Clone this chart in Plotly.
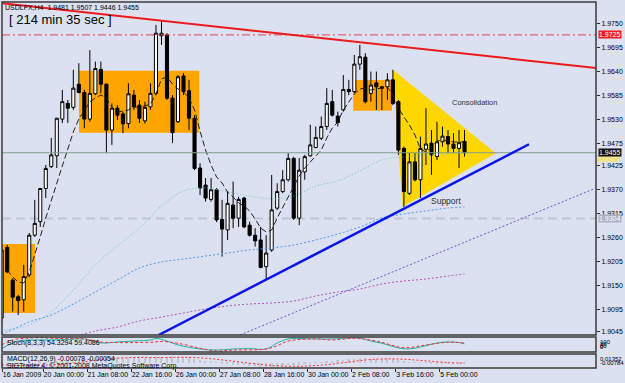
import plotly.graph_objects as go

# ---------------- data ----------------
bars = list(range(-1, 84))
open_ = [1.9076, 1.9238, 1.9163, 1.9125, 1.9118, 1.9175, 1.9266, 1.9297, 1.9373, 1.9423,
         1.9448, 1.9532, 1.9568, 1.9559, 1.9612, 1.9593, 1.9532, 1.9590, 1.9646, 1.9612,
         1.9507, 1.9557, 1.9544, 1.9522, 1.9587, 1.9564, 1.9528, 1.9560, 1.9591, 1.9723,
         1.9725, 1.9580, 1.9526, 1.9631, 1.9597, 1.9534, 1.9420, 1.9381, 1.9348, 1.9370,
         1.9302, 1.9278, 1.9335, 1.9305, 1.9351, 1.9289, 1.9266, 1.9255, 1.9194, 1.9232,
         1.9328, 1.9366, 1.9393, 1.9442, 1.9305, 1.9411, 1.9448, 1.9467, 1.9488, 1.9515,
         1.9572, 1.9539, 1.9553, 1.9600, 1.9595, 1.9658, 1.9674, 1.9591, 1.9615, 1.9606,
         1.9606, 1.9622, 1.9572, 1.9465, 1.9362, 1.9434, 1.9393, 1.9463, 1.9477, 1.9446,
         1.9480, 1.9492, 1.9475, 1.9465, 1.9481]
high = [1.9244, 1.9244, 1.9167, 1.9129, 1.9198, 1.9271, 1.9347, 1.9374, 1.9427, 1.9489,
        1.9535, 1.9599, 1.9576, 1.9645, 1.9660, 1.9599, 1.9690, 1.9664, 1.9664, 1.9614,
        1.9568, 1.9564, 1.9549, 1.9614, 1.9599, 1.9576, 1.9572, 1.9614, 1.9748, 1.9759,
        1.9729, 1.9587, 1.9633, 1.9638, 1.9622, 1.9541, 1.9431, 1.9397, 1.9397, 1.9374,
        1.9347, 1.9366, 1.9389, 1.9354, 1.9354, 1.9297, 1.9282, 1.9285, 1.9266, 1.9404,
        1.9385, 1.9415, 1.9454, 1.9446, 1.9443, 1.9450, 1.9519, 1.9515, 1.9538, 1.9603,
        1.9599, 1.9549, 1.9633, 1.9622, 1.9679, 1.9702, 1.9683, 1.9641, 1.9641, 1.9608,
        1.9637, 1.9645, 1.9576, 1.9469, 1.9454, 1.9454, 1.9492, 1.9557, 1.9507, 1.9526,
        1.9515, 1.9507, 1.9500, 1.9507, 1.9507]
low = [1.9065, 1.9179, 1.9091, 1.9083, 1.9091, 1.9170, 1.9262, 1.9285, 1.9351, 1.9420,
       1.9420, 1.9523, 1.9523, 1.9553, 1.9591, 1.9511, 1.9526, 1.9587, 1.9591, 1.9454,
       1.9473, 1.9530, 1.9500, 1.9511, 1.9553, 1.9523, 1.9522, 1.9553, 1.9587, 1.9702,
       1.9576, 1.9477, 1.9523, 1.9587, 1.9507, 1.9415, 1.9358, 1.9343, 1.9343, 1.9296,
       1.9217, 1.9255, 1.9282, 1.9285, 1.9282, 1.9263, 1.9240, 1.9190, 1.9163, 1.9228,
       1.9324, 1.9362, 1.9389, 1.9301, 1.9289, 1.9393, 1.9446, 1.9465, 1.9484, 1.9507,
       1.9538, 1.9515, 1.9549, 1.9587, 1.9591, 1.9645, 1.9568, 1.9572, 1.9553, 1.9553,
       1.9576, 1.9564, 1.9450, 1.9331, 1.9358, 1.9389, 1.9351, 1.9427, 1.9404, 1.9438,
       1.9469, 1.9454, 1.9454, 1.9420, 1.9446]
close = [1.9232, 1.9182, 1.9124, 1.9116, 1.9171, 1.9266, 1.9293, 1.9373, 1.9419, 1.9450,
         1.9534, 1.9572, 1.9557, 1.9603, 1.9593, 1.9532, 1.9591, 1.9648, 1.9612, 1.9507,
         1.9557, 1.9541, 1.9521, 1.9590, 1.9560, 1.9534, 1.9559, 1.9591, 1.9729, 1.9729,
         1.9580, 1.9501, 1.9629, 1.9595, 1.9534, 1.9419, 1.9374, 1.9351, 1.9370, 1.9301,
         1.9280, 1.9339, 1.9305, 1.9348, 1.9285, 1.9266, 1.9253, 1.9192, 1.9225, 1.9324,
         1.9366, 1.9393, 1.9442, 1.9305, 1.9415, 1.9446, 1.9473, 1.9490, 1.9515, 1.9568,
         1.9541, 1.9524, 1.9600, 1.9595, 1.9658, 1.9675, 1.9572, 1.9610, 1.9606, 1.9603,
         1.9622, 1.9568, 1.9461, 1.9366, 1.9434, 1.9393, 1.9465, 1.9475, 1.9450, 1.9480,
         1.9493, 1.9475, 1.9465, 1.9478, 1.9455]

fast_ma = [1.91862, 1.91702, 1.91587, 1.91565, 1.91817, 1.92206, 1.92619, 1.93054, 1.93467, 1.93856,
           1.94246, 1.94635, 1.95025, 1.95323, 1.95529, 1.95712, 1.95804, 1.95873, 1.95804, 1.95598,
           1.95483, 1.95506, 1.95529, 1.95598, 1.95598, 1.95621, 1.95667, 1.95896, 1.96240, 1.96285,
           1.96125, 1.96010, 1.95942, 1.95804, 1.95529, 1.95048, 1.94612, 1.94269, 1.93994, 1.93856,
           1.93650, 1.93535, 1.93398, 1.93329, 1.93215, 1.93031, 1.92825, 1.92733, 1.92779, 1.93054,
           1.93302, 1.93554, 1.93787, 1.94017, 1.94200, 1.94337, 1.94498, 1.94612, 1.94887, 1.95117,
           1.95254, 1.95529, 1.95712, 1.95896, 1.96010, 1.96033, 1.95987, 1.96010, 1.96033, 1.96056,
           1.95873, 1.95575, 1.95369, 1.95185, 1.94956, 1.94635, 1.94567, 1.94681, 1.94819, 1.94842,
           1.94819, 1.94796, 1.94796, 1.94796]

ma_bars = [-1, 0, 4, 8, 12, 16, 20, 24, 28, 32, 36, 40, 44, 48, 52, 56, 60, 64, 68, 72, 76, 80, 83]
ma_teal = [1.90465, 1.90487, 1.90602, 1.90900, 1.91404, 1.91977, 1.92412, 1.92825, 1.93329, 1.93673,
           1.93742, 1.93650, 1.93558, 1.93490, 1.93558, 1.93787, 1.93902, 1.94131, 1.94383, 1.94452,
           1.94498, 1.94521, 1.94567]
ma_blue = [1.90396, 1.90442, 1.90671, 1.90831, 1.91083, 1.91358, 1.91633, 1.91908, 1.92046, 1.92114,
           1.92183, 1.92252, 1.92321, 1.92367, 1.92435, 1.92550, 1.92687, 1.92848, 1.93054, 1.93146,
           1.93215, 1.93283, 1.93306]
ma_mag_bars = [12, 16, 20, 24, 28, 32, 36, 40, 44, 48, 52, 56, 60, 64, 68, 72, 76, 80, 83]
ma_mag = [1.90327, 1.90465, 1.90556, 1.90694, 1.90785, 1.90877, 1.90969, 1.91037, 1.91083, 1.91106,
          1.91152, 1.91267, 1.91358, 1.91427, 1.91542, 1.91610, 1.91656, 1.91725, 1.91771]

stoch_main_bars = [-1, 2, 5, 8, 11, 14, 17, 20, 23, 26, 27, 29, 31, 35, 38, 41, 44, 47, 49, 51,
                   53, 56, 59, 62, 64, 66, 68, 71, 73, 75, 78, 80, 82, 83]
stoch_main = [23, 73, 80, 80, 83, 87, 60, 67, 73, 80, 90, 73, 47, 20, 13, 20, 23, 20, 60, 87,
              90, 87, 87, 93, 93, 73, 58, 27, 20, 33, 60, 67, 63, 54.33]
stoch_sig_bars = [-1, 1, 5, 9, 14, 17, 20, 26, 28, 31, 35, 38, 41, 47, 49, 51, 56, 59, 63, 67,
                  72, 76, 80, 83]
stoch_sig = [47, 80, 95, 90, 87, 67, 63, 65, 70, 58, 25, 7, 13, 20, 42, 73, 87, 80, 91, 73,
             29, 47, 65, 59.41]

macd_hist = [-0.0040, -0.0042, -0.0045, -0.0047, -0.0046, -0.0040, -0.0032, -0.0022, -0.0010, 0.0002,
             0.0015, 0.0030, 0.0042, 0.0055, 0.0066, 0.0072, 0.0080, 0.0088, 0.0093, 0.0090,
             0.0088, 0.0085, 0.0080, 0.0080, 0.0078, 0.0074, 0.0072, 0.0073, 0.0085, 0.0096,
             0.0094, 0.0086, 0.0086, 0.0083, 0.0076, 0.0060, 0.0044, 0.0028, 0.0016, 0.0002,
             -0.0012, -0.0018, -0.0026, -0.0030, -0.0037, -0.0044, -0.0051, -0.0062, -0.0068, -0.0064,
             -0.0056, -0.0046, -0.0034, -0.0036, -0.0028, -0.0018, -0.0008, 0.0002, 0.0012, 0.0026,
             0.0034, 0.0038, 0.0046, 0.0052, 0.0062, 0.0070, 0.0068, 0.0066, 0.0064, 0.0062,
             0.0062, 0.0056, 0.0040, 0.0020, 0.0012, 0.0002, 0.0001, -0.0001, -0.0004, -0.0004,
             -0.0004, -0.0005, -0.0006, -0.0006, -0.0008]
macd_sig_bars = [-1, 4, 8, 12, 16, 20, 24, 28, 32, 36, 40, 44, 48, 52, 56, 60, 64, 68, 72, 76, 80, 83]
macd_sig = [-0.0030, -0.0042, -0.0030, -0.0005, 0.0040, 0.0070, 0.0083, 0.0080, 0.0085, 0.0070,
            0.0035, -0.0005, -0.0040, -0.0052, -0.0040, -0.0010, 0.0035, 0.0060, 0.0055, 0.0030,
            0.0004, -0.0005]

price_ticks = [1.9750, 1.9695, 1.9640, 1.9585, 1.9530, 1.9475, 1.9425, 1.9370,
               1.9315, 1.9260, 1.9205, 1.9150, 1.9095, 1.9045]
date_labels = ["16 Jan 2009", "20 Jan 00:00", "21 Jan 08:00", "22 Jan 16:00", "26 Jan 00:00",
               "27 Jan 08:00", "28 Jan 16:00", "30 Jan 00:00", "2 Feb 08:00", "3 Feb 16:00",
               "5 Feb 00:00"]

# levels / objects (data coordinates)
level_red = 1.9725
level_bid = 1.9455
level_grey = 1.9304

# ---------------- style ----------------
BG = "#dbe1f1"
FONT = "Liberation Sans, Arial, sans-serif"
X_RANGE = [-0.944, 106.86]
Y_RANGE = [1.90373, 1.98004]
D_MAIN = [0.0902, 1.0]
D_STO = [0.0437, 0.0847]
D_MACD = [0.0, 0.0383]

fig = go.Figure()

fig.add_trace(go.Candlestick(
    x=bars, open=open_, high=high, low=low, close=close,
    increasing=dict(line=dict(color="black", width=1), fillcolor="white"),
    decreasing=dict(line=dict(color="black", width=1), fillcolor="black"),
    whiskerwidth=0, xaxis="x", yaxis="y", showlegend=False, hoverinfo="skip"))

fig.add_trace(go.Scatter(x=ma_bars, y=ma_teal, mode="lines", line_shape="spline",
                         line=dict(color="#6cc3d0", width=1, dash="1px,2px"),
                         xaxis="x", yaxis="y", hoverinfo="skip"))
fig.add_trace(go.Scatter(x=ma_bars, y=ma_blue, mode="lines", line_shape="spline",
                         line=dict(color="#4d9bf0", width=1, dash="2px,2px"),
                         xaxis="x", yaxis="y", hoverinfo="skip"))
fig.add_trace(go.Scatter(x=ma_mag_bars, y=ma_mag, mode="lines", line_shape="spline",
                         line=dict(color="#c050c0", width=1, dash="2px,2px"),
                         xaxis="x", yaxis="y", hoverinfo="skip"))
fig.add_trace(go.Scatter(x=list(range(len(fast_ma))), y=fast_ma, mode="lines",
                         line=dict(color="#202020", width=1, dash="6px,3px"),
                         xaxis="x", yaxis="y", hoverinfo="skip"))

# Stochastic
fig.add_trace(go.Scatter(x=stoch_main_bars, y=stoch_main, mode="lines", line_shape="spline",
                         line=dict(color="#20b2aa", width=1), xaxis="x", yaxis="y2", hoverinfo="skip"))
fig.add_trace(go.Scatter(x=stoch_sig_bars, y=stoch_sig, mode="lines", line_shape="spline",
                         line=dict(color="#ff3030", width=1, dash="3px,2px"),
                         xaxis="x", yaxis="y2", hoverinfo="skip"))

# MACD
fig.add_trace(go.Bar(x=bars, y=macd_hist, width=0.3, marker=dict(color="#c2c6d2", line=dict(width=0)),
                     xaxis="x", yaxis="y3", hoverinfo="skip"))
fig.add_trace(go.Scatter(x=macd_sig_bars, y=macd_sig, mode="lines", line_shape="spline",
                         line=dict(color="#ff3030", width=1, dash="2px,2px"),
                         xaxis="x", yaxis="y3", hoverinfo="skip"))

shapes = []
# background objects
shapes.append(dict(type="rect", xref="x", yref="y", x0=X_RANGE[0], x1=5.05, y0=1.90877, y1=1.92458,
                   fillcolor="#ffa500", line=dict(width=0), layer="below"))
shapes.append(dict(type="rect", xref="x", yref="y", x0=13.03, x1=34.87, y0=1.95009, y1=1.96430,
                   fillcolor="#ffa500", line=dict(width=0), layer="below"))
shapes.append(dict(type="rect", xref="x", yref="y", x0=62.8, x1=69.84, y0=1.95513, y1=1.96217,
                   fillcolor="#ffa500", line=dict(width=0), layer="below"))
shapes.append(dict(type="path", xref="x", yref="y",
                   path="M 69.9 1.96462 L 88.66 1.94537 L 71.78 1.93313 Z",
                   fillcolor="#ffd700", line=dict(width=0), layer="below"))
# horizontal levels
shapes.append(dict(type="line", xref="x domain", yref="y", x0=0, x1=1, y0=level_grey, y1=level_grey,
                   line=dict(color="#c2c5d4", width=2, dash="9px,5px"), layer="below"))
shapes.append(dict(type="line", xref="x domain", yref="y", x0=0, x1=1, y0=level_red, y1=level_red,
                   line=dict(color="#e8404c", width=1, dash="8px,3px,2px,3px")))
shapes.append(dict(type="line", xref="x domain", yref="y", x0=0, x1=1, y0=level_bid, y1=level_bid,
                   line=dict(color="#7f9f8f", width=1)))
# trendlines
shapes.append(dict(type="line", xref="x", yref="y", x0=-1.31, y0=1.97981, x1=106.86, y1=1.96492,
                   line=dict(color="#ee1a1a", width=2)))
shapes.append(dict(type="line", xref="x", yref="y", x0=27.48, y0=1.90373, x1=94.70, y1=1.94744,
                   line=dict(color="#0a14ee", width=2.5)))
shapes.append(dict(type="line", xref="x", yref="y", x0=42.25, y0=1.90373, x1=106.86, y1=1.93742,
                   line=dict(color="#6a58d8", width=1, dash="2px,2px")))
# small yellow marker in price scale
shapes.append(dict(type="rect", xref="paper", yref="y", x0=1.003, x1=1.040, y0=1.94337, y1=1.94521,
                   fillcolor="#f2e28a", line=dict(width=0)))
# panel frames
for dom in (D_MAIN, D_STO, D_MACD):
    shapes.append(dict(type="rect", xref="paper", yref="paper", x0=0, x1=1, y0=dom[0], y1=dom[1],
                       line=dict(color="#3a3a3a", width=1.5), fillcolor="rgba(0,0,0,0)"))

ann = []
def txt(text, x, y, size=7, xref="paper", yref="paper", xanchor="left", yanchor="middle",
        color="black", **kw):
    ann.append(dict(text=text, x=x, y=y, xref=xref, yref=yref, xanchor=xanchor, yanchor=yanchor,
                    showarrow=False, font=dict(family=FONT, size=size, color=color), **kw))

txt("USDLFX,H4  1.9481 1.9507 1.9446 1.9455", 0.002, 0.986, size=7)
txt("[ 214 min 35 sec ]", 0.0084, 0.951, size=13)
txt("Consolidation", 84.72, 1.95712, size=7.5, xref="x", yref="y", xanchor="center", color="#303030")
txt("Support", 79.67, 1.93444, size=8.5, xref="x", yref="y", xanchor="center", color="#303030")
txt("Stoch(8,3,3) 54.3294 59.4086", 0.005, 0.0683, size=7)
txt("MACD(12,26,9) -0.00078 -0.00054", 0.005, 0.0246, size=7)
txt("SIGTrader 4, © 2001-2008 MetaQuotes Software Corp.", 0.005, 0.0068, size=7)

# price-scale tags
txt("1.9725", 1.0, level_red, yref="y", color="white", bgcolor="#ee1c24", borderpad=0, xshift=2)
txt("1.9455", 1.0, level_bid, yref="y", color="white", bgcolor="#101010", borderpad=0, xshift=2)
txt("1.9304", 1.0, level_grey, yref="y", color="white", bgcolor="#a8b0c4", borderpad=0, xshift=2)
# sub-window scales
txt("100", 1.0, 100, yref="y2", yanchor="top", xshift=2, size=6)
txt("80", 1.0, 75, yref="y2", yanchor="top", xshift=2, size=6)
txt("20", 1.0, 20, yref="y2", yanchor="bottom", xshift=2, size=6)
txt("0", 1.0, 0, yref="y2", yanchor="bottom", xshift=2, size=6)
txt("0.01352", 1.0, 0.01352, yref="y3", yanchor="top", xshift=2, size=6)
txt("-0.00784", 1.0, -0.00784, yref="y3", yanchor="bottom", xshift=2, size=6)

tick_pos = [-0.9] + [6.5 + 8 * k for k in range(len(date_labels) - 1)]

fig.update_layout(
    width=625, height=383, margin=dict(l=2, r=29, t=2, b=15),
    paper_bgcolor=BG, plot_bgcolor=BG, showlegend=False, hovermode=False,
    boxgap=0.25, boxgroupgap=0.25, bargap=0,
    shapes=shapes, annotations=ann,
    xaxis=dict(range=X_RANGE, anchor="y3", tickvals=tick_pos, ticktext=date_labels, tickangle=0,
               ticks="outside", ticklen=3, tickcolor="#303030", ticklabelposition="outside right",
               tickfont=dict(family=FONT, size=7, color="black"), showgrid=False, zeroline=False,
               showline=False, rangeslider=dict(visible=False), fixedrange=True),
    yaxis=dict(domain=D_MAIN, range=Y_RANGE, side="right", anchor="x",
               tickvals=price_ticks, ticktext=[f"{v:.4f}" for v in price_ticks],
               ticks="outside", ticklen=3, tickcolor="#303030",
               tickfont=dict(family=FONT, size=7, color="black"),
               showgrid=False, zeroline=False, showline=False, fixedrange=True),
    yaxis2=dict(domain=D_STO, range=[0, 100], side="right", anchor="x", showticklabels=False,
                showgrid=False, zeroline=False, showline=False, fixedrange=True),
    yaxis3=dict(domain=D_MACD, range=[-0.00784, 0.01352], side="right", anchor="x",
                showticklabels=False, showgrid=False, zeroline=False, showline=False, fixedrange=True),
)

fig.write_html("out.html")
